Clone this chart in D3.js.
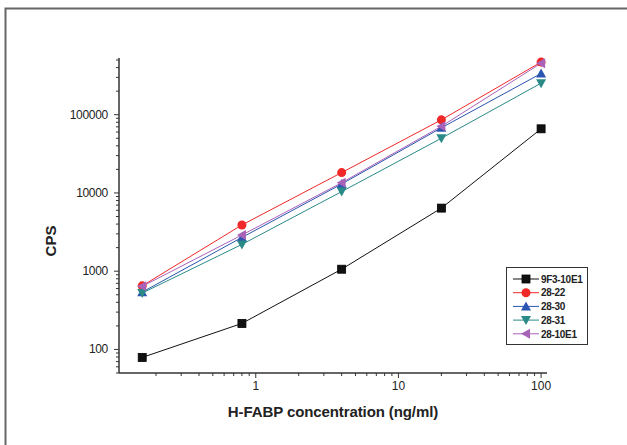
<!DOCTYPE html>
<html><head><meta charset="utf-8">
<script src="https://cdn.jsdelivr.net/npm/d3@7"></script>
<style>body{margin:0;background:#fff}svg{display:block}</style>
</head><body>
<svg id="c" width="627" height="445"></svg>
<script>
const concentrations = [0.16, 0.8, 4, 20, 100];
const seriesNames = ["9F3-10E1", "28-22", "28-30", "28-31", "28-10E1"];
const s9F3 = [79, 215, 1060, 6400, 66000];
const s2822 = [650, 3900, 18200, 86000, 470000];
const s2830 = [540, 2700, 13000, 68000, 336000];
const s2831 = [525, 2200, 10400, 50000, 253000];
const s2810 = [640, 2900, 13500, 71000, 455000];
const xTickValues = [1, 10, 100];
const yTickValues = [100, 1000, 10000, 100000];

const values = [s9F3, s2822, s2830, s2831, s2810];
const colors = ["#111111", "#f02828", "#2a55b0", "#2a8a88", "#a862b8"];
const shapes = ["square", "circle", "up", "down", "left"];
const FF = "Liberation Sans, Arial, sans-serif";

const svg = d3.select("#c");
svg.append("path").attr("d", "M5.5,445 L5.5,8.5 L627,8.5").attr("fill","none").attr("stroke","#666").attr("stroke-width",2);

const x = d3.scaleLog().domain([0.11, 110]).range([119, 547]);
const y = d3.scaleLog().domain([50, 500000]).range([373, 60]);

const axCol = "#333";
const g = svg.append("g");
g.append("line").attr("x1",119).attr("x2",547).attr("y1",y.range()[0]).attr("y2",y.range()[0]).attr("stroke",axCol).attr("stroke-width",1.5);
g.append("line").attr("x1",119).attr("x2",119).attr("y1",y.range()[0]).attr("y2",y.range()[1]-2).attr("stroke",axCol).attr("stroke-width",1.5);

const xMinor = [];
for (let d = 0.1; d <= 100; d *= 10) for (let k = 1; k < 10; k++) { const v = +(d*k).toPrecision(3); if (v >= 0.11 && v <= 110) xMinor.push(v); }
xMinor.forEach(v => {
  const major = xTickValues.includes(v);
  g.append("line").attr("x1",x(v)).attr("x2",x(v)).attr("y1",373).attr("y2",373+(major?5:3)).attr("stroke",axCol).attr("stroke-width",1);
});
xTickValues.forEach(v => {
  g.append("text").attr("x",x(v)).attr("y",390).attr("text-anchor","middle").attr("font-family",FF).attr("font-size",12).attr("fill","#222").text(v);
});
const yMinor = [];
for (let d = 10; d <= 100000; d *= 10) for (let k = 1; k < 10; k++) { const v = d*k; if (v >= 50 && v <= 500000) yMinor.push(v); }
yMinor.forEach(v => {
  const major = yTickValues.includes(v);
  g.append("line").attr("x1",119).attr("x2",119-(major?5:3)).attr("y1",y(v)).attr("y2",y(v)).attr("stroke",axCol).attr("stroke-width",1);
});
yTickValues.forEach(v => {
  g.append("text").attr("x",108).attr("y",y(v)+4).attr("text-anchor","end").attr("font-family",FF).attr("font-size",12).attr("letter-spacing","-0.3").attr("fill","#222").text(v);
});

svg.append("text").attr("x",333).attr("y",417).attr("text-anchor","middle").attr("font-family",FF).attr("font-weight","bold").attr("font-size",15).attr("letter-spacing","-0.1").attr("fill","#222").text("H-FABP concentration (ng/ml)");
svg.append("text").attr("transform","translate(56,241) rotate(-90)").attr("text-anchor","middle").attr("font-family",FF).attr("font-weight","bold").attr("font-size",15).attr("fill","#222").text("CPS");

function marker(sel, shape, cx, cy, col) {
  let p;
  if (shape === "square") p = sel.append("rect").attr("x",cx-4).attr("y",cy-4).attr("width",8).attr("height",8).attr("stroke","#000").attr("stroke-width",0.8);
  else if (shape === "circle") p = sel.append("circle").attr("cx",cx).attr("cy",cy).attr("r",4.5);
  else if (shape === "up") p = sel.append("path").attr("d",`M${cx},${cy-5} L${cx+5},${cy+4} L${cx-5},${cy+4}Z`);
  else if (shape === "down") p = sel.append("path").attr("d",`M${cx},${cy+5} L${cx+5},${cy-4} L${cx-5},${cy-4}Z`);
  else p = sel.append("path").attr("d",`M${cx-5},${cy} L${cx+4},${cy-5} L${cx+4},${cy+5}Z`);
  p.attr("fill",col);
}

const line = d3.line().x((d,i)=>x(concentrations[i])).y(d=>y(d));
values.forEach((vals,i) => {
  svg.append("path").attr("d",line(vals)).attr("fill","none").attr("stroke",colors[i]).attr("stroke-width",1);
});
values.forEach((vals,i) => {
  const mg = svg.append("g");
  vals.forEach((v,j) => marker(mg, shapes[i], x(concentrations[j]), y(v), colors[i]));
});

const lg = svg.append("g");
lg.append("rect").attr("x",506.5).attr("y",267.5).attr("width",81).attr("height",77).attr("fill","#fff").attr("stroke","#333").attr("stroke-width",1);
seriesNames.forEach((n,i) => {
  const ly = 279 + i*13.7;
  lg.append("line").attr("x1",513).attr("x2",539).attr("y1",ly).attr("y2",ly).attr("stroke",colors[i]).attr("stroke-width",1);
  marker(lg, shapes[i], 526, ly, colors[i]);
  lg.append("text").attr("x",541).attr("y",ly+3.7).attr("font-family",FF).attr("font-weight","bold").attr("font-size",10).attr("letter-spacing","-0.3").attr("fill","#222").text(n);
});
</script>
</body></html>
